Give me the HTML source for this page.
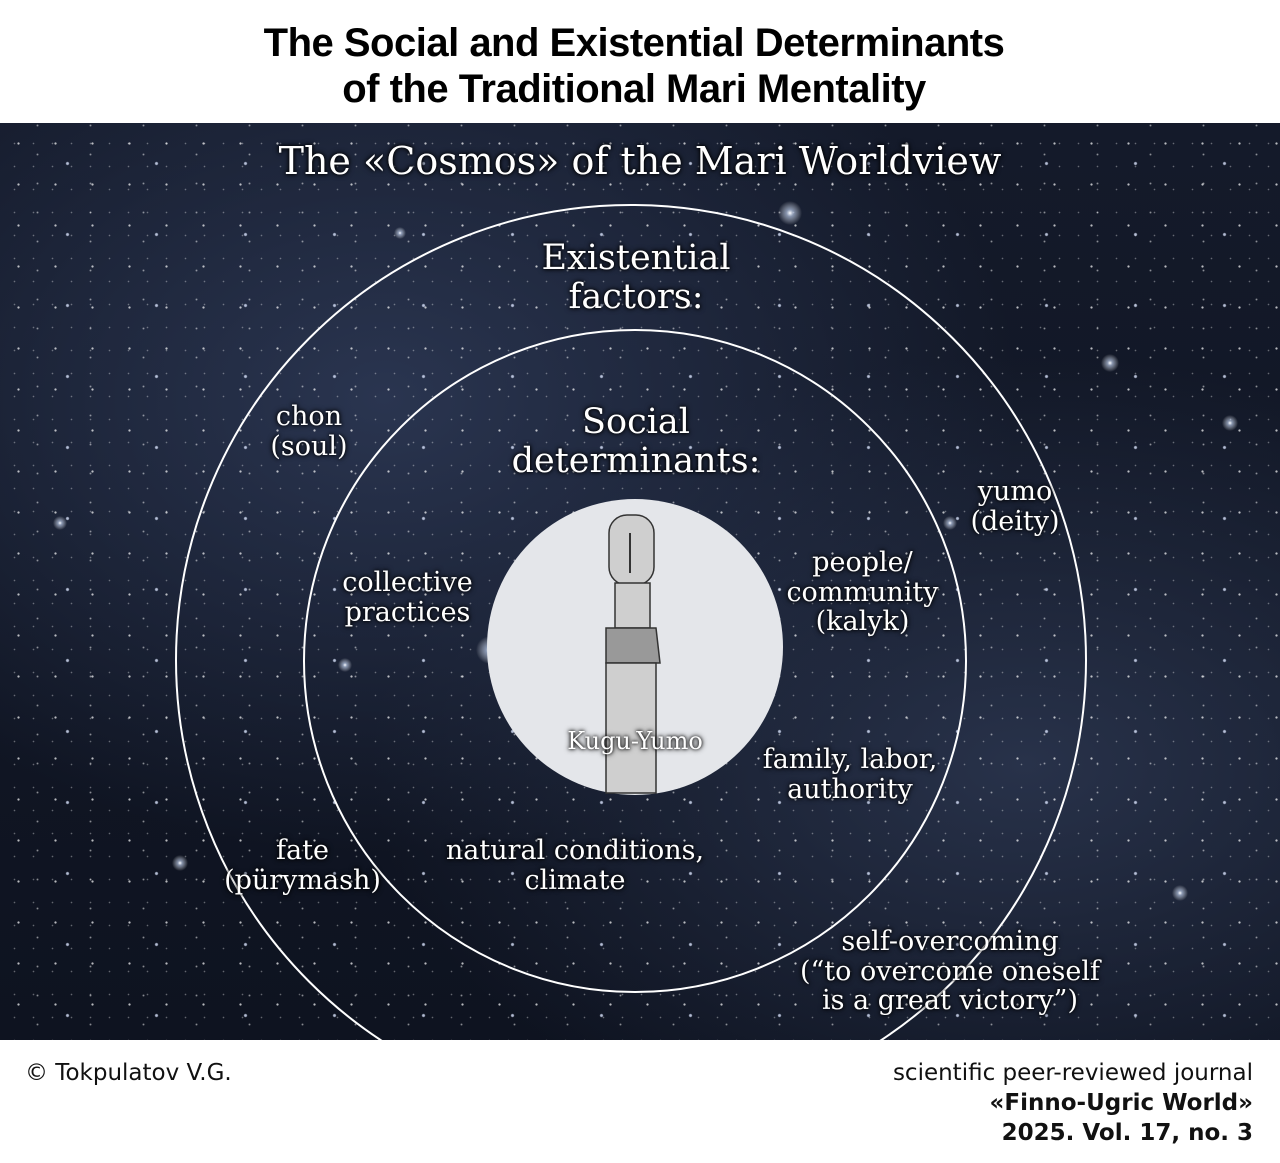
<!DOCTYPE html>
<html><head><meta charset="utf-8"><style>
html,body{margin:0;padding:0;background:#fff;}
body{width:1280px;height:1163px;position:relative;overflow:hidden;font-family:"Liberation Sans",sans-serif;}
.title{position:absolute;top:20px;left:0;width:1268px;text-align:center;font-size:40px;font-weight:bold;line-height:46px;color:#000;letter-spacing:-0.5px;}
.space{position:absolute;left:0;top:123px;width:1280px;height:917px;overflow:hidden;
background:
radial-gradient(circle at 50% 50%, rgba(255,255,255,0.7) 0.7px, transparent 1.5px) 0 0/37px 41px,
radial-gradient(circle at 50% 50%, rgba(255,255,255,0.5) 0.6px, transparent 1.3px) 11px 17px/53px 29px,
radial-gradient(circle at 50% 50%, rgba(220,230,255,0.8) 1px, transparent 2px) 23px 5px/89px 71px,
radial-gradient(circle at 50% 50%, rgba(255,255,255,0.35) 0.5px, transparent 1.1px) 5px 9px/19px 23px,
radial-gradient(ellipse at 30% 30%, #2a3550 0%, transparent 50%),
radial-gradient(ellipse at 80% 70%, #28324a 0%, transparent 45%),
linear-gradient(#141a2a,#0e1320);}
.t{position:absolute;color:#fff;font-family:"DejaVu Serif",serif;text-align:center;text-shadow:0 0 6px #000,0 0 3px #000;line-height:1.1;}
.foot{position:absolute;font-size:23px;color:#111;font-family:"DejaVu Sans",sans-serif;}
</style></head><body>
<div class="title">The Social and Existential Determinants<br>of the Traditional Mari Mentality</div>
<div class="space">
<svg width="1280" height="917" style="position:absolute;left:0;top:0">
<defs><radialGradient id="g"><stop offset="0" stop-color="#fff"/><stop offset="0.3" stop-color="#cfe0ff" stop-opacity="0.6"/><stop offset="1" stop-color="#fff" stop-opacity="0"/></radialGradient></defs>
<circle cx="790" cy="90" r="12" fill="url(#g)"/><circle cx="490" cy="527" r="14" fill="url(#g)"/>
<circle cx="1110" cy="240" r="9" fill="url(#g)"/><circle cx="345" cy="542" r="7" fill="url(#g)"/>
<circle cx="1230" cy="300" r="8" fill="url(#g)"/><circle cx="60" cy="400" r="7" fill="url(#g)"/>
<circle cx="1180" cy="770" r="8" fill="url(#g)"/><circle cx="180" cy="740" r="8" fill="url(#g)"/>
<circle cx="950" cy="400" r="7" fill="url(#g)"/><circle cx="400" cy="110" r="6" fill="url(#g)"/>
<circle cx="631" cy="537" r="455" fill="none" stroke="#fff" stroke-width="2"/>
<circle cx="635" cy="538" r="331" fill="none" stroke="#fff" stroke-width="2"/>
<circle cx="635" cy="524" r="148" fill="#e4e6ea"/>
<g fill="#cfcfcf" stroke="#333" stroke-width="1.5">
<rect x="609" y="392" width="45" height="70" rx="18"/>
<rect x="615" y="460" width="35" height="45"/>
<path d="M606 505 L656 505 L660 540 L606 540 Z" fill="#999"/>
<rect x="606" y="540" width="50" height="130"/>
</g>
<line x1="630" y1="410" x2="630" y2="450" stroke="#333" stroke-width="2"/>
</svg>
<div class="t" style="left:0;width:1280px;top:18px;font-size:38px;">The «Cosmos» of the Mari Worldview</div>
<div class="t" style="left:466px;width:340px;top:116px;font-size:35px;">Existential<br>factors:</div>
<div class="t" style="left:466px;width:340px;top:280px;font-size:35px;">Social<br>determinants:</div>
<div class="t" style="left:244px;width:130px;top:279px;font-size:27px;">chon<br>(soul)</div>
<div class="t" style="left:945px;width:140px;top:354px;font-size:27px;">yumo<br>(deity)</div>
<div class="t" style="left:320px;width:175px;top:445px;font-size:27px;">collective<br>practices</div>
<div class="t" style="left:765px;width:195px;top:425px;font-size:27px;">people/<br>community<br>(kalyk)</div>
<div class="t" style="left:530px;width:210px;top:605px;font-size:24px;">Kugu-Yumo</div>
<div class="t" style="left:730px;width:240px;top:622px;font-size:27px;">family, labor,<br>authority</div>
<div class="t" style="left:200px;width:205px;top:713px;font-size:27px;">fate<br>(pürymash)</div>
<div class="t" style="left:415px;width:320px;top:713px;font-size:27px;">natural conditions,<br>climate</div>
<div class="t" style="left:770px;width:360px;top:804px;font-size:27px;">self-overcoming<br>(“to overcome oneself<br>is a great victory”)</div>
</div>
<div class="foot" style="left:25px;top:1060px;">© Tokpulatov V.G.</div>
<div class="foot" style="right:27px;top:1058px;text-align:right;line-height:30px;">scientific peer-reviewed journal<br><b>«Finno-Ugric World»</b><br><b>2025. Vol. 17, no. 3</b></div>
</body></html>
